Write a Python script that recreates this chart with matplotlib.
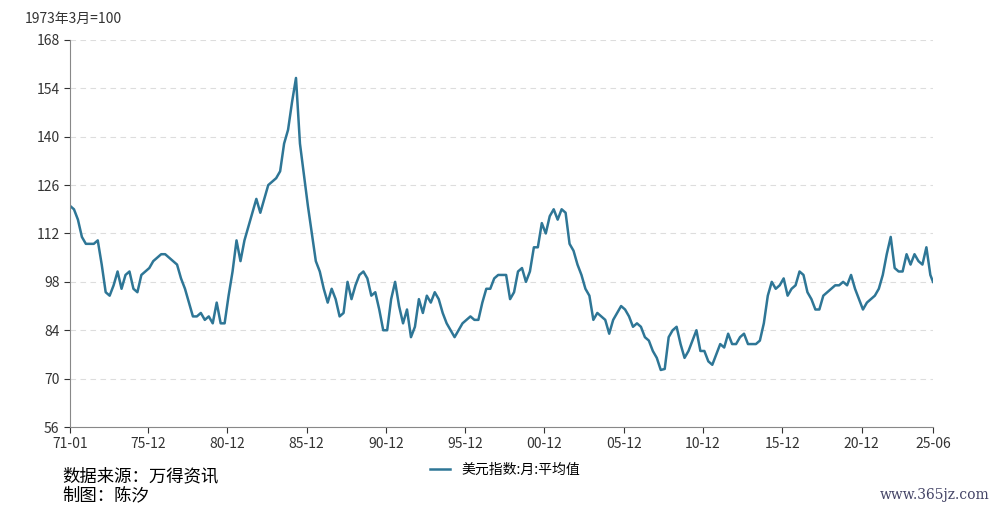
import matplotlib
matplotlib.use("Agg")
import matplotlib.pyplot as plt
import numpy as np

plt.rcParams["font.family"] = ["Noto Sans CJK SC"]

years = list(range(1971, 2026))
q_values = [
    [120, 119, 116, 111], [109, 109, 109, 110], [103, 95, 94, 97], [101, 96, 100, 101],
    [96, 95, 100, 101], [102, 104, 105, 106], [106, 105, 104, 103], [99, 96, 92, 88],
    [88, 89, 87, 88], [86, 92, 86, 86], [94, 101, 110, 104], [110, 114, 118, 122],
    [118, 122, 126, 127], [128, 130, 138, 142], [150, 157, 138, 129], [120, 112, 104, 101],
    [96, 92, 96, 93], [88, 89, 98, 93], [97, 100, 101, 99], [94, 95, 90, 84],
    [84, 93, 98, 91], [86, 90, 82, 85], [93, 89, 94, 92], [95, 93, 89, 86],
    [84, 82, 84, 86], [87, 88, 87, 87], [92, 96, 96, 99], [100, 100, 100, 93],
    [95, 101, 102, 98], [101, 108, 108, 115], [112, 117, 119, 116], [119, 118, 109, 107],
    [103, 100, 96, 94], [87, 89, 88, 87], [83, 87, 89, 91], [90, 88, 85, 86],
    [85, 82, 81, 78], [76, 72.5, 72.8, 82], [84, 85, 80, 76], [78, 81, 84, 78],
    [78, 75, 74, 77], [80, 79, 83, 80], [80, 82, 83, 80], [80, 80, 81, 86],
    [94, 98, 96, 97], [99, 94, 96, 97], [101, 100, 95, 93], [90, 90, 94, 95],
    [96, 97, 97, 98], [97, 100, 96, 93], [90, 92, 93, 94], [96, 100, 106, 111],
    [102, 101, 101, 106], [103, 106, 104, 103], [108, 100, 98],
]
q_months = [1, 4, 7, 10]
tick_labels = ["71-01", "75-12", "80-12", "85-12", "90-12", "95-12", "00-12",
               "05-12", "10-12", "15-12", "20-12", "25-06"]

def mindex(y, m):
    return (y - 1971) * 12 + (m - 1)

xs, ys = [], []
for y, vals in zip(years, q_values):
    for i, v in enumerate(vals):
        m = q_months[i] if not (y == 2025 and i == 2) else 6
        xs.append(mindex(y, m)); ys.append(v)

tick_pos = [mindex(2000 + int(t[:2]) if int(t[:2]) < 50 else 1900 + int(t[:2]), int(t[3:])) for t in tick_labels]

fig = plt.figure(figsize=(10, 5.12), dpi=100)
ax = fig.add_axes([0.07, 0.166, 0.863, 0.756])
ax.plot(xs, ys, color="#2e7696", lw=1.8, label="美元指数:月:平均值")
ax.set_xlim(0, mindex(2025, 6))
ax.set_ylim(56, 168)
ax.set_yticks(np.arange(56, 169, 14))
ax.set_xticks(tick_pos)
ax.set_xticklabels(tick_labels)
ax.tick_params(labelsize=10, colors="#333333", length=4)
ax.grid(axis="y", ls=(0, (5, 4)), color="#dddddd", lw=0.8)
for s in ["top", "right"]:
    ax.spines[s].set_visible(False)
for s in ["left", "bottom"]:
    ax.spines[s].set_color("#888888")
fig.text(0.025, 0.955, "1973年3月=100", fontsize=10, color="#333333")
fig.legend(loc="center", bbox_to_anchor=(0.505, 0.083), frameon=False, fontsize=10, handlelength=1.5)
fig.text(0.062, 0.06, "数据来源：万得资讯", fontsize=12.5)
fig.text(0.062, 0.022, "制图：陈汐", fontsize=12.5)
fig.text(0.88, 0.025, "www.365jz.com", fontsize=10, color="#444466", family="DejaVu Serif")
fig.savefig("out.png")
